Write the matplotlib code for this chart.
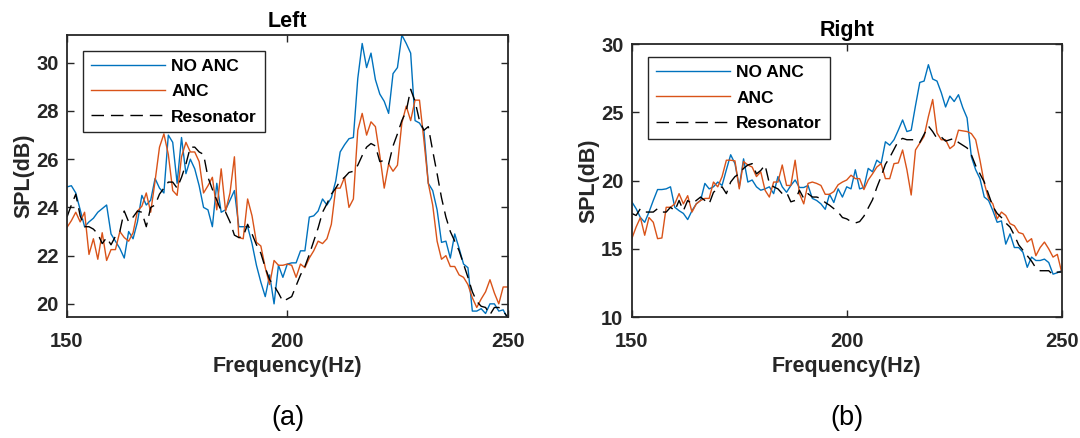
import numpy as np
import matplotlib
matplotlib.use('Agg')
import matplotlib.pyplot as plt

plt.rcParams['font.family'] = ['Liberation Sans', 'DejaVu Sans']

freq = np.arange(150, 251)

# --- Left ear ---
left_no_anc = [24.85, 24.9, 24.6, 23.9, 23.2, 23.4, 23.55, 23.8, 23.95, 24.1,
               22.9, 22.6, 22.3, 21.9, 23.0, 22.7, 23.4, 24.5, 24.1, 24.3,
               25.2, 24.8, 24.6, 27.0, 26.7, 25.0, 26.9, 25.4, 26.0, 25.6,
               24.9, 24.0, 23.9, 23.2, 25.0, 23.8, 23.9, 24.3, 24.7, 23.2,
               23.2, 23.2, 22.5, 21.6, 20.9, 20.3, 21.2, 20.0, 21.6, 21.1,
               21.65, 21.7, 21.7, 22.2, 22.2, 23.6, 23.65, 23.85, 24.35, 24.1,
               24.4, 25.1, 26.3, 26.6, 26.85, 26.9, 29.35, 30.8, 29.8, 30.4,
               29.3, 28.7, 28.4, 27.9, 29.55, 29.8, 31.15, 30.8, 30.4, 27.6,
               27.5, 27.2, 25.0, 24.7, 23.9, 22.55, 22.6, 21.9, 22.9, 22.3,
               21.65, 21.5, 19.7, 19.7, 19.8, 19.6, 20.0, 20.0, 19.7, 19.75,
               19.4]
left_anc = [23.17, 23.45, 23.8, 23.4, 23.8, 22.05, 22.7, 21.85, 22.95, 21.8,
            22.25, 22.25, 23.0, 22.75, 22.6, 22.95, 23.85, 24.05, 24.6, 23.8,
            25.1, 26.5, 27.05, 26.2, 24.7, 24.5, 26.1, 26.7, 26.3, 26.3,
            25.9, 24.6, 24.9, 25.25, 23.9, 25.6, 23.85, 24.6, 26.1, 22.75,
            22.7, 24.35, 23.65, 22.55, 22.4, 21.5, 20.8, 21.8, 21.6, 21.6,
            21.65, 21.6, 21.1, 21.65, 21.5, 21.9, 22.2, 22.6, 22.5, 22.7,
            23.3, 24.8, 24.8, 25.25, 24.0, 24.35, 27.2, 27.9, 27.0, 27.55,
            27.35, 26.15, 24.8, 25.8, 25.5, 25.75, 27.5, 28.2, 27.6, 28.45,
            28.45, 26.8, 25.0, 24.1, 22.6, 21.85, 22.0, 21.55, 21.55, 21.2,
            21.1, 20.8, 20.25, 19.85, 20.2, 20.5, 21.0, 20.45, 20.0, 20.7,
            20.7]
left_res = [23.6, 24.1, 24.55, 23.65, 23.2, 23.2, 23.1, 22.9, 22.5, 22.75,
            22.45, 22.8, 23.0, 23.85, 23.4, 23.6, 23.85, 23.8, 23.2, 24.0,
            24.1, 24.55, 24.8, 25.05, 25.05, 24.8, 25.25, 25.8, 26.5, 26.5,
            26.3, 26.2, 25.25, 24.75, 24.3, 23.85, 23.8, 23.4, 22.85, 22.75,
            22.8, 23.3, 22.9, 22.45, 22.1, 21.5, 21.0, 20.75, 20.45, 20.1,
            20.2, 20.3, 20.75, 21.2, 21.55, 22.05, 22.6, 23.15, 23.8, 24.15,
            24.55, 24.8, 25.1, 25.25, 25.45, 25.5, 25.75, 26.15, 26.5, 26.65,
            26.55, 25.9, 25.95, 25.8, 26.55, 27.05, 27.6, 28.0, 28.9, 28.4,
            27.6, 27.2, 27.35, 26.35, 25.4, 24.4, 23.6, 23.0, 22.6, 22.2,
            21.65, 21.1, 20.5, 20.1, 19.9, 19.85, 19.55, 19.85, 19.85, 19.7,
            19.45]

# --- Right ear ---
right_no_anc = [18.45, 17.95, 17.3, 16.95, 17.7, 18.55, 19.35, 19.35, 19.4, 19.55,
                18.05, 17.8, 17.6, 17.15, 17.8, 18.3, 18.55, 19.8, 19.4, 19.55,
                19.9, 19.65, 20.8, 21.9, 21.25, 19.55, 21.6, 19.9, 20.05, 19.55,
                19.3, 19.4, 19.55, 19.05, 20.3, 19.55, 19.15, 19.65, 20.05, 19.5,
                19.5, 19.65, 18.7, 18.55, 18.3, 17.9, 19.0, 18.4, 19.4, 18.8,
                19.55, 19.4, 20.8, 19.4, 19.5, 20.9, 20.65, 21.5, 21.25, 22.85,
                22.6, 23.0, 23.7, 24.45, 23.6, 23.7, 25.5, 27.2, 27.3, 28.5,
                27.45, 27.3, 26.45, 25.4, 26.2, 25.8, 26.3, 25.35, 24.6, 21.75,
                20.8, 20.15, 18.8, 18.55, 17.8, 16.95, 17.05, 15.35, 16.1, 15.1,
                15.1, 14.75, 13.65, 14.4, 14.15, 14.15, 14.25, 14.0, 13.15, 13.25,
                13.4]
right_anc = [15.75, 16.6, 17.3, 16.0, 17.3, 16.95, 15.75, 15.8, 18.05, 18.05,
             18.3, 19.05, 18.3, 18.9, 17.7, 18.3, 18.55, 18.7, 18.7, 19.9,
             19.55, 20.3, 21.5, 21.5, 21.45, 19.4, 21.4, 21.15, 21.0, 20.3,
             20.65, 19.3, 18.8, 19.9, 19.9, 21.15, 19.65, 19.65, 21.5, 19.05,
             18.3, 19.8, 19.9, 19.8, 19.65, 19.0, 19.0, 19.2, 19.7, 19.9,
             20.05, 20.4, 20.15, 20.15, 19.35, 20.05, 20.5, 21.0, 21.25, 20.15,
             20.15, 21.25, 21.3, 22.25, 20.8, 18.95, 22.25, 22.75, 23.25, 24.7,
             25.95, 23.5, 23.0, 23.0, 22.35, 22.6, 23.7, 23.65, 23.6, 23.45,
             23.0, 21.5, 19.8, 18.7, 18.3, 17.2, 17.7, 17.45, 16.85, 16.7,
             16.2, 16.1, 15.5, 15.75, 14.5, 15.1, 15.5, 15.0, 14.4, 14.6,
             13.3]
right_res = [17.6, 17.45, 17.95, 17.7, 17.7, 17.7, 17.95, 17.7, 17.7, 18.05,
             17.8, 18.55, 17.8, 18.55, 18.3, 18.55, 18.8, 18.55, 18.3, 19.15,
             19.4, 19.55, 19.05, 19.9, 20.3, 20.5, 20.9, 21.15, 21.25, 20.5,
             20.75, 21.15, 19.8, 19.55, 19.4, 19.05, 19.15, 18.45, 18.55, 19.3,
             18.7, 19.05, 18.8, 18.8, 18.7, 18.4, 18.2, 17.95, 17.7, 17.3,
             17.2, 17.0, 16.9, 17.0, 17.4, 18.0, 18.6, 19.5, 20.3, 21.2,
             21.7, 22.3, 22.9, 23.1, 23.0, 23.0, 23.0, 22.8, 23.4, 24.0,
             23.6, 23.1, 23.2, 22.9, 23.0, 23.1, 22.8, 22.6, 22.4, 21.9,
             21.1, 20.5, 19.9, 19.0, 18.1, 17.6, 17.3, 16.9, 16.6, 16.0,
             15.3, 14.9, 14.5, 14.1, 13.6, 13.4, 13.4, 13.4, 13.1, 13.3,
             13.3]

c_blue = '#0072BD'
c_orange = '#D95319'
c_txt = '#262626'

fig = plt.figure(figsize=(10.8, 4.38), dpi=100)
ax1 = fig.add_axes([0.062, 0.276, 0.408, 0.644])
ax2 = fig.add_axes([0.585, 0.276, 0.398, 0.623])


def dibujar(ax, no_anc, anc, res, titulo, ylim, yticks, leg_pos):
    ax.plot(freq, no_anc, color=c_blue, lw=1.0, label='NO ANC')
    ax.plot(freq, anc, color=c_orange, lw=1.0, label='ANC')
    ax.plot(freq, res, color='black', lw=1.0, dashes=(9, 5), label='Resonator')
    ax.set_xlim(150, 250)
    ax.set_ylim(*ylim)
    ax.set_xticks([150, 200, 250])
    ax.set_yticks(yticks)
    ax.tick_params(direction='in', top=True, right=True, length=5, width=1.0,
                   labelsize=14.5, colors=c_txt)
    ax.tick_params(axis='x', pad=11)
    ax.tick_params(axis='y', pad=6)
    for lab in ax.get_xticklabels() + ax.get_yticklabels():
        lab.set_fontweight('bold')
    for s in ax.spines.values():
        s.set_linewidth(1.3)
        s.set_color(c_txt)
    ax.set_title(titulo, fontsize=15.5, fontweight='bold', color='black', pad=6)
    ax.set_xlabel('Frequency(Hz)', fontsize=15.5, fontweight='bold', color=c_txt, labelpad=3)
    ax.set_ylabel('SPL(dB)', fontsize=15.5, fontweight='bold', color=c_txt, labelpad=1)
    leg = ax.legend(loc='upper left', bbox_to_anchor=leg_pos, borderaxespad=0,
                    fancybox=False, framealpha=1, edgecolor=c_txt, handlelength=4.3,
                    handletextpad=0.35, labelspacing=0.58, borderpad=0.45,
                    prop={'size': 12.5, 'weight': 'bold'})
    leg.get_frame().set_linewidth(1.0)


dibujar(ax1, left_no_anc, left_anc, left_res, 'Left', (19.45, 31.15),
        [20, 22, 24, 26, 28, 30], (0.036, 0.943))
dibujar(ax2, right_no_anc, right_anc, right_res, 'Right', (10, 30),
        [10, 15, 20, 25, 30], (0.037, 0.952))

fig.text(0.267, 0.045, '(a)', fontsize=19.5, ha='center', va='center', color='black')
fig.text(0.784, 0.045, '(b)', fontsize=19.5, ha='center', va='center', color='black')

fig.savefig('out.png', dpi=100)
